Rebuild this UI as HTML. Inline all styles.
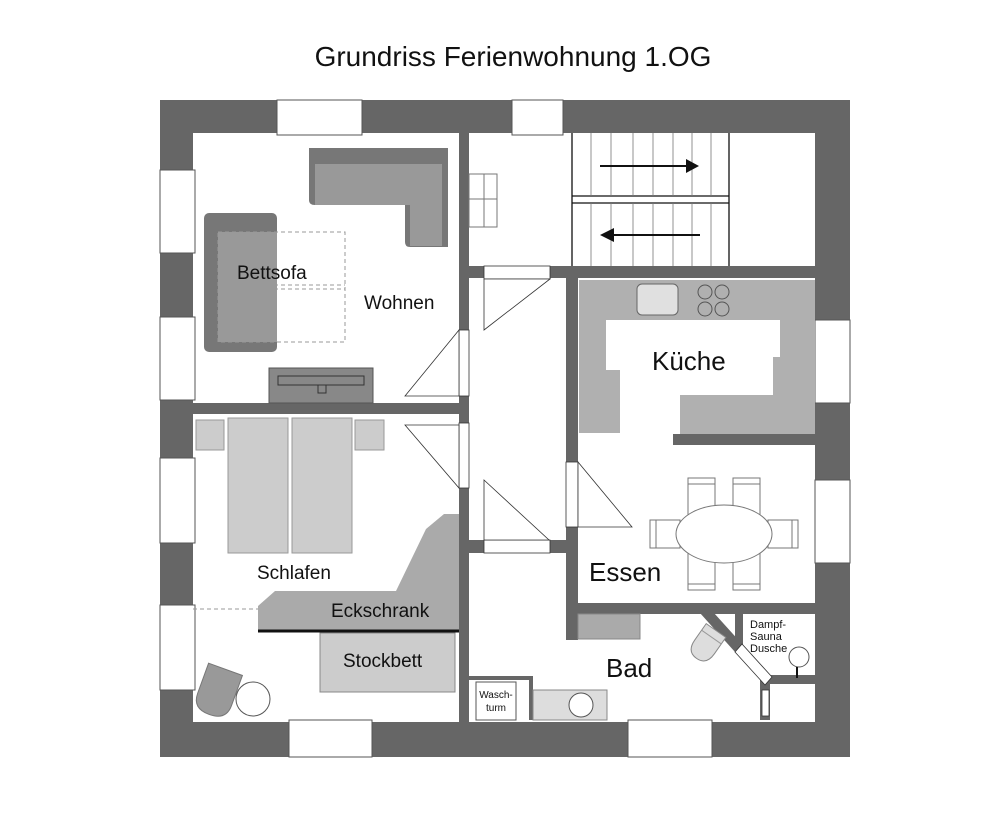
<!DOCTYPE html>
<html><head><meta charset="utf-8"><style>
html,body{margin:0;padding:0;background:#fff;}
svg{display:block;font-family:"Liberation Sans",sans-serif;}
</style></head><body>
<svg width="1000" height="820" viewBox="0 0 1000 820" xmlns="http://www.w3.org/2000/svg">
<rect x="0" y="0" width="1000" height="820" fill="#fff"/>
<text x="513" y="66" font-size="28" text-anchor="middle" fill="#111">Grundriss Ferienwohnung 1.OG</text>

<!-- outer walls -->
<rect x="160" y="100" width="690" height="657" fill="#666"/>
<rect x="193" y="133" width="622" height="589" fill="#fff"/>

<!-- windows -->
<g fill="#fff" stroke="#555" stroke-width="1">
<rect x="277" y="100" width="85" height="35"/>
<rect x="512" y="100" width="51" height="35"/>
<rect x="160" y="170" width="35" height="83"/>
<rect x="160" y="317" width="35" height="83"/>
<rect x="160" y="458" width="35" height="85"/>
<rect x="160" y="605" width="35" height="85"/>
<rect x="815" y="320" width="35" height="83"/>
<rect x="815" y="480" width="35" height="83"/>
<rect x="289" y="720" width="83" height="37"/>
<rect x="628" y="720" width="84" height="37"/>
</g>

<!-- interior walls -->
<g fill="#666">
<rect x="459" y="133" width="10" height="589"/>
<rect x="193" y="403" width="266" height="11"/>
<rect x="469" y="266" width="346" height="12"/>
<rect x="566" y="278" width="12" height="362"/>
<rect x="469" y="540" width="97" height="13"/>
<rect x="566" y="603" width="249" height="11"/>
<rect x="673" y="434" width="142" height="11"/>
<rect x="735" y="613" width="8" height="35"/>
<polygon points="700,613 714,613 742,644 735,652"/>
<rect x="760" y="678" width="10" height="42"/>
<rect x="770" y="675" width="45" height="9"/>
</g>

<!-- stairs -->
<g stroke="#111" stroke-width="1.3" fill="none">
<line x1="572" y1="133" x2="572" y2="266"/>
<line x1="729" y1="133" x2="729" y2="266"/>
<line x1="572" y1="196" x2="729" y2="196"/>
<line x1="572" y1="203" x2="729" y2="203"/>
</g>
<g stroke="#777" stroke-width="0.8">
<line x1="591" y1="133" x2="591" y2="196"/><line x1="611" y1="133" x2="611" y2="196"/><line x1="633" y1="133" x2="633" y2="196"/><line x1="653" y1="133" x2="653" y2="196"/><line x1="673" y1="133" x2="673" y2="196"/><line x1="692" y1="133" x2="692" y2="196"/><line x1="711" y1="133" x2="711" y2="196"/>
<line x1="591" y1="203" x2="591" y2="266"/><line x1="611" y1="203" x2="611" y2="266"/><line x1="633" y1="203" x2="633" y2="266"/><line x1="653" y1="203" x2="653" y2="266"/><line x1="673" y1="203" x2="673" y2="266"/><line x1="692" y1="203" x2="692" y2="266"/><line x1="711" y1="203" x2="711" y2="266"/>
</g>
<line x1="600" y1="166" x2="688" y2="166" stroke="#111" stroke-width="2"/>
<polygon points="686,159 699,166 686,173" fill="#111"/>
<line x1="700" y1="235" x2="612" y2="235" stroke="#111" stroke-width="2"/>
<polygon points="614,228 600,235 614,242" fill="#111"/>

<!-- hall shelf -->
<g fill="#fff" stroke="#777" stroke-width="1">
<rect x="469" y="174" width="28" height="53"/>
<line x1="484" y1="174" x2="484" y2="227"/>
<line x1="469" y1="199" x2="497" y2="199"/>
</g>

<!-- Wohnen furniture -->
<path d="M309,148 H448 V247 H410 Q405,247 405,242 V205 H315 Q309,205 309,200 Z" fill="#777"/>
<path d="M315,164 H442 V246 H410 V205 H315 Z" fill="#999"/>
<rect x="204" y="213" width="73" height="139" rx="5" fill="#777"/>
<rect x="218" y="232" width="59" height="110" fill="#999"/>
<g fill="none" stroke="#999" stroke-width="1" stroke-dasharray="4,3">
<rect x="218" y="232" width="127" height="110"/>
<line x1="218" y1="285" x2="345" y2="285"/>
<line x1="218" y1="289" x2="345" y2="289"/>
</g>
<rect x="269" y="368" width="104" height="35" fill="#888" stroke="#555"/>
<rect x="278" y="376" width="86" height="9" fill="#888" stroke="#333"/>
<rect x="318" y="385" width="8" height="8" fill="#888" stroke="#333"/>

<!-- Kitchen -->
<path d="M579,280 H815 V434 H680 V395 H773 V357 H780 V320 H606 V370 H620 V433 H579 Z" fill="#b0b0b0"/>
<rect x="637" y="284" width="41" height="31" rx="5" fill="#e0e0e0" stroke="#666"/>
<g fill="none" stroke="#555" stroke-width="1"><circle cx="705" cy="292" r="7"/><circle cx="722" cy="292" r="7"/><circle cx="705" cy="309" r="7"/><circle cx="722" cy="309" r="7"/></g>

<!-- Doors -->
<g fill="#fff" stroke="#333" stroke-width="0.8">
<rect x="484" y="266" width="66" height="13"/>
<polygon points="484,279 550,279 484,330"/>
<rect x="459" y="330" width="10" height="66"/>
<polygon points="459,330 459,396 405,396"/>
<rect x="459" y="423" width="10" height="65"/>
<polygon points="405,425 459,425 459,488"/>
<rect x="484" y="540" width="66" height="13"/>
<polygon points="484,480 484,540 549,540"/>
<rect x="566" y="462" width="12" height="65"/>
<polygon points="578,462 578,527 632,527"/>
<polygon points="735,652 742,644 772,677 765,685"/>
<rect x="762" y="690" width="7" height="26"/>
</g>

<!-- Schlafen -->
<g fill="#ccc" stroke="#999" stroke-width="1">
<rect x="196" y="420" width="28" height="30"/>
<rect x="355" y="420" width="29" height="30"/>
<rect x="228" y="418" width="60" height="135"/>
<rect x="292" y="418" width="60" height="135"/>
</g>
<polygon points="258,606 275,591 396,591 426,529 444,514 459,514 459,631 258,631" fill="#aaa"/>
<line x1="258" y1="631" x2="459" y2="631" stroke="#111" stroke-width="3"/>
<line x1="193" y1="609" x2="258" y2="609" stroke="#999" stroke-dasharray="4,3"/>
<rect x="320" y="633" width="135" height="59" fill="#ccc" stroke="#888"/>
<g transform="rotate(20 218 690)">
<path d="M200,668 H236 V700 Q236,716 218,716 Q200,716 200,700 Z" fill="#999" stroke="#777"/>
</g>
<circle cx="253" cy="699" r="17" fill="#fff" stroke="#555"/>

<!-- Essen -->
<g fill="#fff" stroke="#777" stroke-width="1">
<rect x="688" y="478" width="27" height="40"/><rect x="733" y="478" width="27" height="40"/>
<rect x="688" y="550" width="27" height="40"/><rect x="733" y="550" width="27" height="40"/>
<rect x="650" y="520" width="30" height="28"/><rect x="768" y="520" width="30" height="28"/>
<line x1="688" y1="484" x2="715" y2="484"/><line x1="733" y1="484" x2="760" y2="484"/>
<line x1="688" y1="584" x2="715" y2="584"/><line x1="733" y1="584" x2="760" y2="584"/>
<line x1="656" y1="520" x2="656" y2="548"/><line x1="792" y1="520" x2="792" y2="548"/>
<ellipse cx="724" cy="534" rx="48" ry="29"/>
</g>

<!-- Bad -->
<rect x="578" y="614" width="62" height="25" fill="#aaa" stroke="#888"/>
<g transform="rotate(35 708 642)">
<path d="M696,628 H720 V648 Q720,662 708,662 Q696,662 696,648 Z" fill="#ddd" stroke="#888"/>
<line x1="696" y1="636" x2="720" y2="636" stroke="#999"/>
</g>
<path d="M465,676 H533 V720 H529 V680 H465 Z" fill="#666"/>
<rect x="476" y="682" width="40" height="38" fill="#fff" stroke="#555"/>
<rect x="533" y="690" width="74" height="30" fill="#ddd" stroke="#888"/>
<circle cx="581" cy="705" r="12" fill="#fff" stroke="#555"/>
<circle cx="799" cy="657" r="10" fill="#fff" stroke="#555"/>
<line x1="797" y1="667" x2="797" y2="678" stroke="#111" stroke-width="2"/>

<!-- labels -->
<g fill="#111">
<text x="237" y="279" font-size="19">Bettsofa</text>
<text x="364" y="309" font-size="19">Wohnen</text>
<text x="652" y="370" font-size="26">Küche</text>
<text x="257" y="579" font-size="19">Schlafen</text>
<text x="331" y="617" font-size="19">Eckschrank</text>
<text x="343" y="667" font-size="19">Stockbett</text>
<text x="589" y="581" font-size="26">Essen</text>
<text x="606" y="677" font-size="26">Bad</text>
<text x="750" y="628" font-size="11">Dampf-</text>
<text x="750" y="640" font-size="11">Sauna</text>
<text x="750" y="652" font-size="11">Dusche</text>
<text x="496" y="698" font-size="10" text-anchor="middle">Wasch-</text>
<text x="496" y="711" font-size="10" text-anchor="middle">turm</text>
</g>
</svg>
</body></html>
